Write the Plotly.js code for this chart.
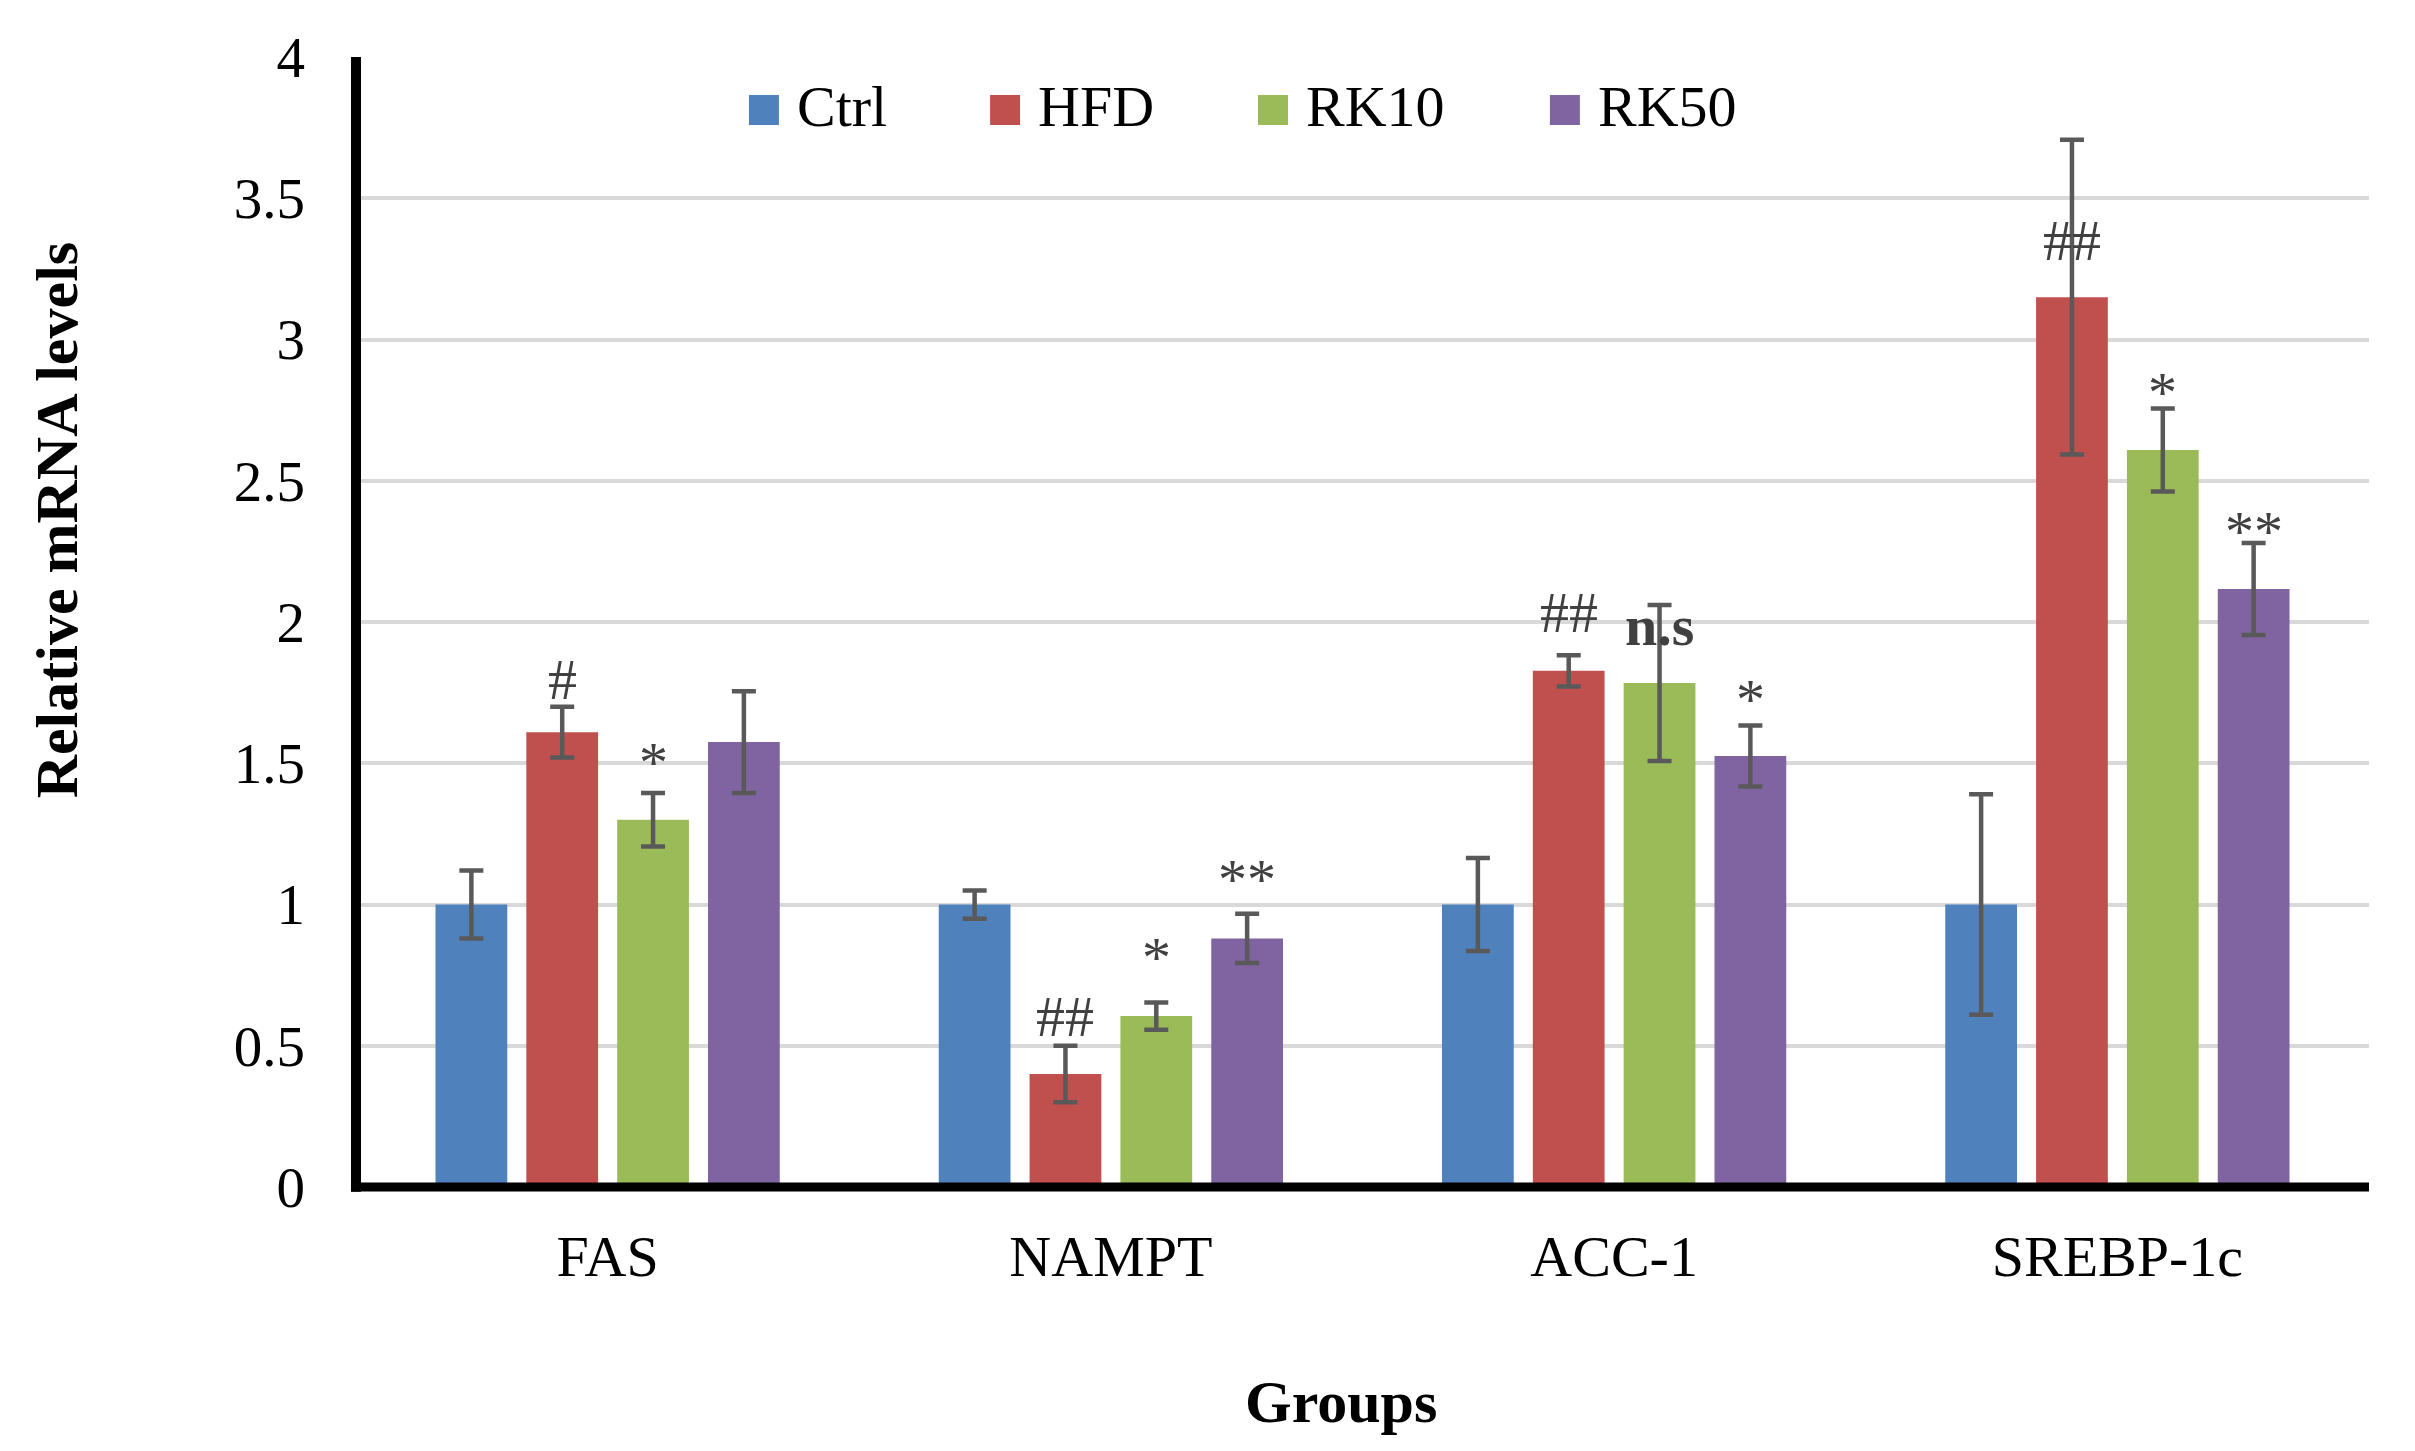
<!DOCTYPE html>
<html>
<head>
<meta charset="utf-8">
<script src="https://cdn.plot.ly/plotly-3.0.1.min.js"></script>
<style>html,body{margin:0;padding:0;background:#fff;}#chart{width:2415px;height:1451px;}</style>
</head>
<body>
<div id="chart"></div>
<script>
// ---- data ----
const categories = ['FAS', 'NAMPT', 'ACC-1', 'SREBP-1c'];
const seriesNames = ['Ctrl', 'HFD', 'RK10', 'RK50'];

const ctrlValues = [1.00, 1.00, 1.00, 1.00];
const ctrlErrors = [0.12, 0.05, 0.165, 0.39];

const hfdValues = [1.61, 0.40, 1.827, 3.15];
const hfdErrors = [0.09, 0.10, 0.055, 0.557];

const rk10Values = [1.30, 0.605, 1.784, 2.609];
const rk10Errors = [0.095, 0.048, 0.276, 0.147];

const rk50Values = [1.575, 0.88, 1.526, 2.117];
const rk50Errors = [0.18, 0.087, 0.108, 0.163];

const yTickValues = [0, 0.5, 1, 1.5, 2, 2.5, 3, 3.5, 4];
const yTickLabels = ['0', '0.5', '1', '1.5', '2', '2.5', '3', '3.5', '4'];

const xTitle = 'Groups';
const yTitle = 'Relative mRNA levels';

// significance labels and the heights at which they are printed
const ctrlMarks = ['', '', '', ''];
const ctrlMarkY = [null, null, null, null];
const hfdMarks = ['#', '##', '##', '##'];
const hfdMarkY = [1.795, 0.602, 2.035, 3.352];
const rk10Marks = ['*', '*', '<b>n.s</b>', '*'];
const rk10MarkY = [1.504, 0.811, 1.989, 2.814];
const rk50Marks = ['', '**', '*', '**'];
const rk50MarkY = [null, 1.087, 1.727, 2.322];

// ---- styling ----
const colors = ['#4F81BD', '#C0504D', '#9BBB59', '#8064A2'];
const FONT = '"Liberation Serif", "Times New Roman", Times, serif';
const BARGAP = 0.278;
const BARGROUPGAP = 0.21;

const valueSets = [ctrlValues, hfdValues, rk10Values, rk50Values];
const errorSets = [ctrlErrors, hfdErrors, rk10Errors, rk50Errors];
const markSets = [ctrlMarks, hfdMarks, rk10Marks, rk50Marks];
const markYSets = [ctrlMarkY, hfdMarkY, rk10MarkY, rk50MarkY];

const traces = seriesNames.map((name, i) => ({
  type: 'bar',
  name: name,
  x: categories,
  y: valueSets[i],
  marker: {color: colors[i], line: {width: 0}},
  error_y: {type: 'data', array: errorSets[i], visible: true,
            color: '#595959', thickness: 4.5, width: 12},
  showlegend: false,
  hoverinfo: 'x+y'
}));

// bar offsets inside a group, derived from the bar gap settings
const nSeries = seriesNames.length;
const slot = (1 - BARGAP) / nSeries;
const offsetOf = i => -((1 - BARGAP) / 2) + slot * (i + 0.5);

const annotations = [];
markSets.forEach((marks, i) => {
  marks.forEach((txt, j) => {
    if (!txt) return;
    annotations.push({
      x: j + offsetOf(i), y: markYSets[i][j], xref: 'x', yref: 'y',
      text: txt, showarrow: false, xanchor: 'center', yanchor: 'middle',
      font: {family: FONT, size: 58, color: '#404040'}
    });
  });
});

// custom legend (large square swatches like the original)
const legendSwatchX = [0.1952, 0.3150, 0.4481, 0.5931];
const swatchW = 0.0149;
const shapes = [];
seriesNames.forEach((name, i) => {
  shapes.push({
    type: 'rect', xref: 'paper', yref: 'paper',
    x0: legendSwatchX[i], x1: legendSwatchX[i] + swatchW,
    y0: 0.9398, y1: 0.9664,
    fillcolor: colors[i], line: {width: 0}
  });
  annotations.push({
    x: legendSwatchX[i] + 0.02285, y: 0.9558, xref: 'paper', yref: 'paper',
    text: name, showarrow: false, xanchor: 'left', yanchor: 'middle',
    font: {family: FONT, size: 58, color: '#000000'}
  });
});

// axis titles placed where the original has them
annotations.push({
  x: 0.4893, y: -0.190, xref: 'paper', yref: 'paper',
  text: '<b>' + xTitle + '</b>', showarrow: false, xanchor: 'center', yanchor: 'middle',
  font: {family: FONT, size: 60, color: '#000000'}
});
annotations.push({
  x: -0.1485, y: 0.590, xref: 'paper', yref: 'paper',
  text: '<b>' + yTitle + '</b>', showarrow: false, textangle: -90,
  xanchor: 'center', yanchor: 'middle',
  font: {family: FONT, size: 60, color: '#000000'}
});

// axis lines centred on the plot edges (Excel style)
shapes.push({type: 'line', xref: 'paper', yref: 'paper', x0: 0, x1: 0, y0: -0.0042, y1: 1,
             line: {color: '#000000', width: 10}, layer: 'above'});
shapes.push({type: 'line', xref: 'paper', yref: 'paper', x0: -0.0025, x1: 1, y0: 0, y1: 0,
             line: {color: '#000000', width: 9}, layer: 'above'});

const layout = {
  width: 2415, height: 1451,
  margin: {l: 356, r: 46, t: 57, b: 264, pad: 0},
  paper_bgcolor: '#ffffff', plot_bgcolor: '#ffffff',
  barmode: 'group', bargap: BARGAP, bargroupgap: BARGROUPGAP,
  font: {family: FONT, color: '#000000'},
  xaxis: {
    type: 'category',
    showline: false, ticks: '', showgrid: false, zeroline: false,
    tickfont: {family: FONT, size: 58, color: '#000000'},
    ticklabelstandoff: 30,
    automargin: false
  },
  yaxis: {
    range: [0, 4], tickvals: yTickValues, ticktext: yTickLabels,
    showline: false, ticks: '', zeroline: false,
    showgrid: true, gridcolor: '#d9d9d9', gridwidth: 4,
    tickfont: {family: FONT, size: 57, color: '#000000'},
    ticklabelstandoff: 50,
    automargin: false
  },
  shapes: shapes,
  annotations: annotations,
  showlegend: false
};

Plotly.newPlot('chart', traces, layout, {displayModeBar: false, staticPlot: true});
</script>
</body>
</html>
